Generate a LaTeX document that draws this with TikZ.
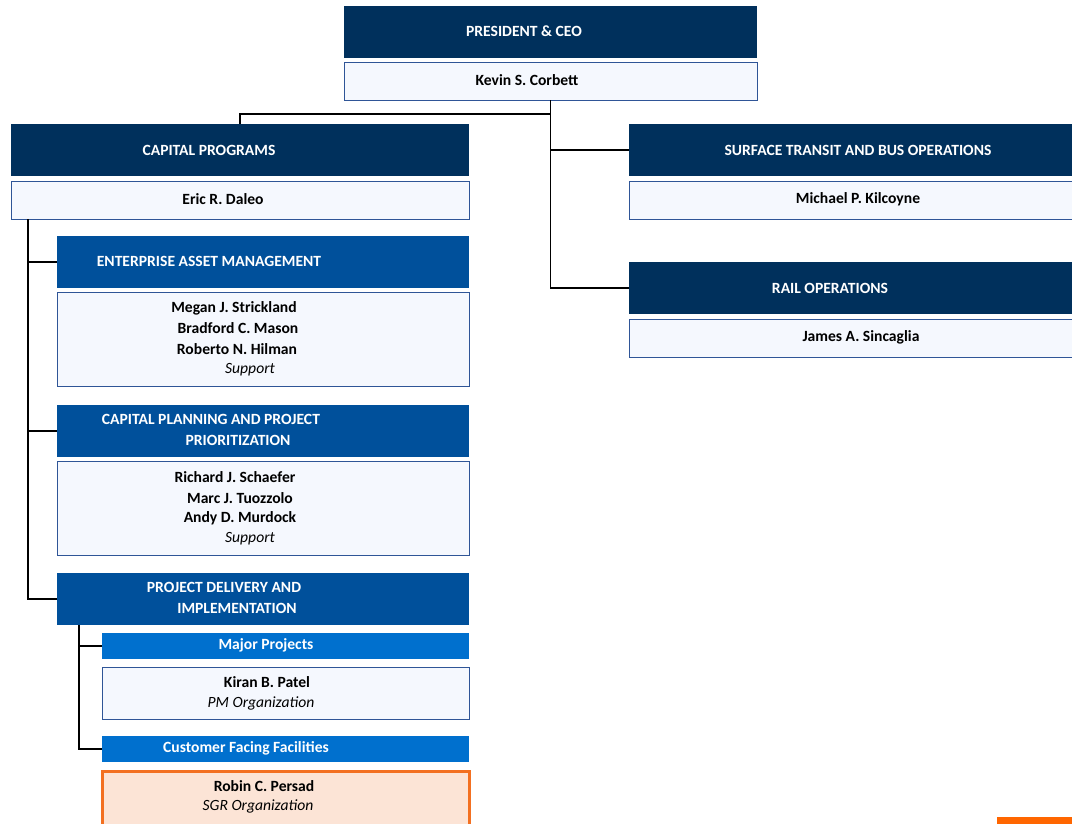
\documentclass[tikz,border=0pt]{standalone}
\usepackage{fontspec}
\setmainfont{Carlito}
\definecolor{navy}{RGB}{0,48,92}
\definecolor{midblue}{RGB}{0,80,155}
\definecolor{ltblue}{RGB}{0,112,206}
\definecolor{namefill}{RGB}{245,248,254}
\definecolor{nameborder}{RGB}{47,85,151}
\definecolor{orangeb}{RGB}{243,112,33}
\definecolor{orangefill}{RGB}{252,228,214}
\definecolor{orangebar}{RGB}{255,102,0}
\tikzset{
  box/.style={rectangle, inner sep=0pt, outer sep=0pt},
  hdr/.style={box, fill=navy},
  sub/.style={box, fill=midblue},
  subsub/.style={box, fill=ltblue},
  namebox/.style={box, fill=namefill, draw=nameborder, line width=1pt},
  sgrbox/.style={box, fill=orangefill, draw=orangeb, line width=3pt},
  htxt/.style={inner sep=0pt, text=white, font=\fontsize{15.6}{18}\selectfont\bfseries},
  ntxt/.style={inner sep=0pt, text=black, font=\fontsize{15.6}{18}\selectfont\bfseries},
  itxt/.style={inner sep=0pt, text=black, font=\fontsize{15.6}{18}\selectfont\itshape},
  conn/.style={draw=black, line width=1.2pt},
}
\begin{document}
\begin{tikzpicture}[x=1pt,y=-1pt]
\useasboundingbox (0,0) rectangle (1072,823);
\clip (0,0) rectangle (1072,823);
% President
\node[hdr, minimum width=413pt, minimum height=52pt] (pres) at (550.5,32) {};
\node[namebox, minimum width=413pt, minimum height=38pt] (kev) at (550.5,81) {};
\node[htxt] (presT) at (524,31) {PRESIDENT \& CEO};
\node[ntxt] (kevT) at (527,80) {Kevin S. Corbett};
% Capital programs
\node[hdr, minimum width=458pt, minimum height=52pt] (cap) at (240,150) {};
\node[namebox, minimum width=458pt, minimum height=38pt] (eric) at (240,200) {};
\node[htxt] (capT) at (209,150) {CAPITAL PROGRAMS};
\node[ntxt] (ericT) at (223,199) {Eric R. Daleo};
% Surface transit
\node[hdr, minimum width=450pt, minimum height=52pt] (surf) at (854,150) {};
\node[namebox, minimum width=450pt, minimum height=38pt] (mich) at (854,200) {};
\node[htxt] (surfT) at (858,150) {SURFACE TRANSIT AND BUS OPERATIONS};
\node[ntxt] (michT) at (858,199) {Michael P. Kilcoyne};
% Rail
\node[hdr, minimum width=450pt, minimum height=52pt] (rail) at (854,288) {};
\node[namebox, minimum width=450pt, minimum height=38pt] (jam) at (854,338) {};
\node[htxt] (railT) at (830,288) {RAIL OPERATIONS};
\node[ntxt] (jamT) at (861,337) {James A. Sincaglia};
% EAM
\node[sub, minimum width=412pt, minimum height=52pt] (eam) at (263,262) {};
\node[namebox, minimum width=412pt, minimum height=94pt] (eamN) at (263,339) {};
\node[htxt] (eamT) at (209,261) {ENTERPRISE ASSET MANAGEMENT};
\node[ntxt] (eam1) at (234,308) {Megan J. Strickland};
\node[ntxt] (eam2) at (238,328) {Bradford C. Mason};
\node[ntxt] (eam3) at (237,349) {Roberto N. Hilman};
\node[itxt] (eam4) at (250,370) {Support};
% CPPP
\node[sub, minimum width=412pt, minimum height=52pt] (cpp) at (263,431) {};
\node[namebox, minimum width=412pt, minimum height=94pt] (cppN) at (263,508) {};
\node[htxt] (cppT1) at (211,419) {CAPITAL PLANNING AND PROJECT};
\node[htxt] (cppT2) at (238,440) {PRIORITIZATION};
\node[ntxt] (cpp1) at (235,477) {Richard J. Schaefer};
\node[ntxt] (cpp2) at (240,498) {Marc J. Tuozzolo};
\node[ntxt] (cpp3) at (240,518) {Andy D. Murdock};
\node[itxt] (cpp4) at (250,539) {Support};
% PDI
\node[sub, minimum width=412pt, minimum height=52pt] (pdi) at (263,599) {};
\node[htxt] (pdiT1) at (224,587) {PROJECT DELIVERY AND};
\node[htxt] (pdiT2) at (237,608) {IMPLEMENTATION};
% Major projects
\node[subsub, minimum width=367pt, minimum height=26pt] (maj) at (285.5,646) {};
\node[namebox, minimum width=367pt, minimum height=52pt] (kir) at (285.5,693) {};
\node[htxt] (majT) at (266,645) {Major Projects};
\node[ntxt] (kirT1) at (267,682) {Kiran B. Patel};
\node[itxt] (kirT2) at (261,703) {PM Organization};
% Customer facing
\node[subsub, minimum width=367pt, minimum height=26pt] (cff) at (285.5,749) {};
\node[sgrbox, minimum width=367pt, minimum height=60pt] (rob) at (286,801) {};
\node[htxt] (cffT) at (246,748) {Customer Facing Facilities};
\node[ntxt] (robT1) at (264,786) {Robin C. Persad};
\node[itxt] (robT2) at (258,806) {SGR Organization};
% orange bar
\node[box, fill=orangebar, minimum width=76pt, minimum height=7pt] (bar) at (1035,820) {};
% connectors
\draw[conn] (kev.south) -- ++(0,14) -| (cap.north);
\draw[conn] (kev.south) |- (surf.west);
\draw[conn] (kev.south) |- (rail.west);
\draw[conn] ([xshift=17pt]eric.south west) |- (eam.west);
\draw[conn] ([xshift=17pt]eric.south west) |- (cpp.west);
\draw[conn] ([xshift=17pt]eric.south west) |- (pdi.west);
\draw[conn] ([xshift=22pt]pdi.south west) |- (maj.west);
\draw[conn] ([xshift=22pt]pdi.south west) |- (cff.west);
\end{tikzpicture}
\end{document}
